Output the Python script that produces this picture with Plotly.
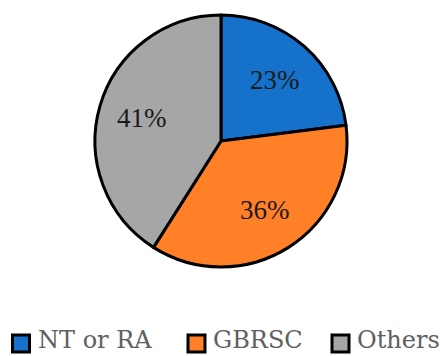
import math
import plotly.graph_objects as go

labels = ["NT or RA", "GBRSC", "Others"]
values = [23, 36, 41]
colors = ["#1571C9", "#FF8026", "#A6A6A6"]

W, H = 444, 356
PIE_FONT = "Liberation Serif"
LEG_FONT = "DejaVu Serif"

CX, CY, R = 221, 141, 126

fig = go.Figure(go.Pie(
    labels=labels,
    values=values,
    sort=False,
    direction="clockwise",
    rotation=0,
    marker=dict(colors=colors, line=dict(color="black", width=3)),
    textinfo="none",
    domain=dict(x=[(CX - R) / W, (CX + R) / W], y=[(H - CY - R) / H, (H - CY + R) / H]),
    showlegend=False,
    hoverinfo="label+percent",
))

annotations = []
shapes = []

# percentage labels at slice mid-angles
total = sum(values)
cum = 0
for v in values:
    mid = (cum + v / 2) / total * 2 * math.pi
    cum += v
    px = CX + 0.65 * R * math.sin(mid)
    py = CY - 0.65 * R * math.cos(mid)
    annotations.append(dict(
        text=f"{round(100 * v / total)}%", xref="paper", yref="paper",
        x=px / W, y=(H - py) / H, xanchor="center", yanchor="middle",
        showarrow=False, font=dict(family=PIE_FONT, size=27, color="#1a1a1a"),
    ))

# manual legend with large square symbols
box_x = [12.5, 188, 332]
text_x = [36, 211, 355]
for i, lab in enumerate(labels):
    x0 = box_x[i]
    shapes.append(dict(
        type="rect", xref="paper", yref="paper",
        x0=x0 / W, x1=(x0 + 17) / W,
        y0=(H - 352) / H, y1=(H - 335) / H,
        fillcolor=colors[i], line=dict(color="black", width=3),
    ))
    annotations.append(dict(
        text=lab, xref="paper", yref="paper",
        x=text_x[i] / W, y=0,
        xanchor="left", yanchor="bottom", showarrow=False,
        font=dict(family=LEG_FONT, size=24, color="#606060"),
    ))

fig.update_layout(
    width=W, height=H,
    margin=dict(l=0, r=0, t=0, b=0),
    paper_bgcolor="white",
    plot_bgcolor="white",
    shapes=shapes,
    annotations=annotations,
)

fig.write_html("out.html")
